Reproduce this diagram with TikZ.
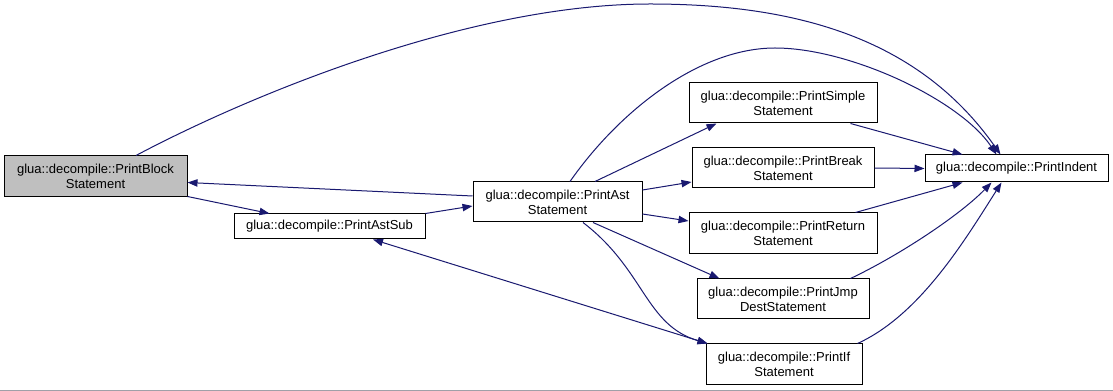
\documentclass[tikz,border=0pt]{standalone}
\usepackage{fontspec}
\setmainfont{Liberation Sans}
\usetikzlibrary{arrows.meta,calc}
\definecolor{midnight}{RGB}{25,25,112}
\definecolor{blockgray}{RGB}{191,191,191}
\definecolor{rulegray}{RGB}{160,160,168}
\tikzset{
  fnbox/.style={draw=black, line width=0.75pt, fill=white, align=center, inner sep=0pt,
    font=\fontsize{9.75}{11.25}\selectfont},
  call/.style={draw=midnight, line width=0.75pt, -{Triangle[length=7.5pt,width=5.5pt]}},
  mutual/.style={draw=midnight, line width=0.75pt,
    {Triangle[length=7.5pt,width=5.5pt]}-{Triangle[length=7.5pt,width=5.5pt]}}
}
\begin{document}
\begin{tikzpicture}[x=0.75pt,y=-0.75pt]
\useasboundingbox (0,0) rectangle (1113,391);
\fill[white] (0,0) rectangle (1113,391);
\fill[rulegray] (0,389.5) rectangle (1113,391);

% functions
\node[fnbox, fill=blockgray, minimum width={183*0.75pt}, minimum height={41*0.75pt}] (block) at (95.5,176.5) {glua::decompile::PrintBlock\\Statement};
\node[fnbox, minimum width={191*0.75pt}, minimum height={25*0.75pt}] (astsub) at (329.5,226.5) {glua::decompile::PrintAstSub};
\node[fnbox, minimum width={169*0.75pt}, minimum height={40*0.75pt}] (ast) at (557.5,202) {glua::decompile::PrintAst\\Statement};
\node[fnbox, minimum width={188*0.75pt}, minimum height={40*0.75pt}] (simple) at (783,103) {glua::decompile::PrintSimple\\Statement};
\node[fnbox, minimum width={182*0.75pt}, minimum height={40*0.75pt}] (brk) at (783,168) {glua::decompile::PrintBreak\\Statement};
\node[fnbox, minimum width={188*0.75pt}, minimum height={41*0.75pt}] (ret) at (783,233.5) {glua::decompile::PrintReturn\\Statement};
\node[fnbox, minimum width={172*0.75pt}, minimum height={40*0.75pt}] (jmp) at (783,299) {glua::decompile::PrintJmp\\DestStatement};
\node[fnbox, minimum width={156*0.75pt}, minimum height={40*0.75pt}] (pif) at (784,364) {glua::decompile::PrintIf\\Statement};
\node[fnbox, minimum width={183*0.75pt}, minimum height={27*0.75pt}] (indent) at (1016.5,168.5) {glua::decompile::PrintIndent};

% calls
\draw[call] ($(block.south east)+(0,-1)$) -- ($(astsub.north west)+(36,0)$);
\draw[call] ($(block.north)+(40.5,0)$) .. controls (250,95) and (470,4) .. (650,4)
  .. controls (800,4) and (920,40) .. ($(indent.north west)+(76,0)$);
\draw[call] ($(ast.west)+(0,-6)$) -- ($(block.east)+(0,6)$);
\draw[call] (astsub.north east) -- ($(ast.west)+(0,4)$);
\draw[call] ($(ast.north)+(37.5,0)$) -- ($(simple.south west)+(28,0)$);
\draw[call] ($(ast.east)+(0,-12)$) -- ($(brk.west)+(0,14)$);
\draw[call] ($(ast.east)+(0,12)$) -- ($(ret.west)+(0,-12.5)$);
\draw[call] ($(ast.south)+(35.5,0)$) -- ($(jmp.north west)+(23,0)$);
\draw[call] ($(ast.south)+(25.5,0)$) .. controls (645,270) and (645,325) .. ($(pif.north west)+(2,0)$);
\draw[call] ($(ast.north)+(12.5,0)$) .. controls (620,110) and (700,48) .. (775,48)
  .. controls (850,48) and (960,100) .. ($(indent.north west)+(72,0)$);
\draw[call] ($(simple.south east)+(-27,0)$) -- ($(indent.north west)+(38,0)$);
\draw[call] (brk.east) -- (indent.west);
\draw[call] ($(ret.north east)+(-22,0)$) -- ($(indent.south west)+(38,0)$);
\draw[call] ($(jmp.north east)+(-19,0)$) .. controls (900,255) and (960,215) .. ($(indent.south west)+(67,0)$);
\draw[call] ($(pif.north east)+(-5,0)$) .. controls (920,315) and (965,240) .. ($(indent.south west)+(77,0)$);
\draw[mutual] ($(astsub.south)+(43.5,0)$) -- ($(pif.north west)+(2,0)$);
\end{tikzpicture}
\end{document}
